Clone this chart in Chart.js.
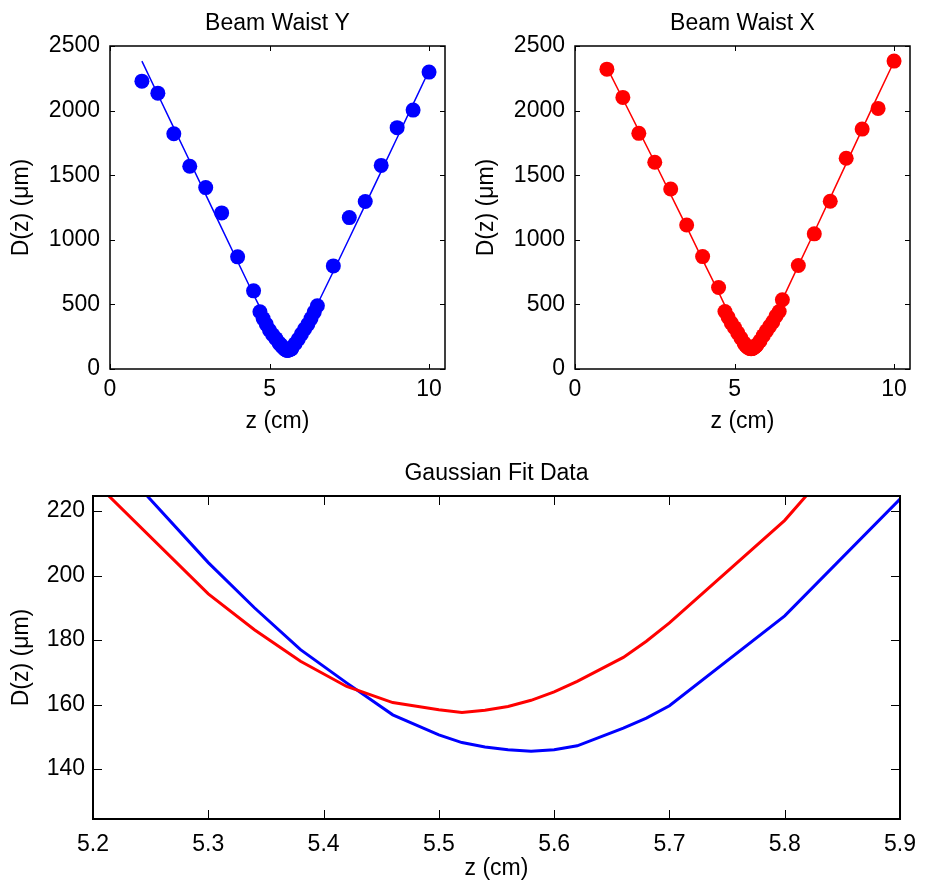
<!DOCTYPE html>
<html>
<head>
<meta charset="utf-8">
<title>Beam Waist</title>
<script src="https://cdn.jsdelivr.net/npm/chart.js@4.4.1/dist/chart.umd.min.js"></script>
<style>
  html, body { margin: 0; padding: 0; background: #fff; overflow: hidden; }
  #wrap { position: relative; width: 928px; height: 882px; overflow: hidden; }
  .box { position: absolute; }
</style>
</head>
<body>
<div id="wrap">
  <div class="box" style="left:0;top:0;width:460px;height:440px"><canvas id="chart-y"></canvas></div>
  <div class="box" style="left:465px;top:0;width:463px;height:440px"><canvas id="chart-x"></canvas></div>
  <div class="box" style="left:0;top:440px;width:928px;height:442px"><canvas id="chart-fit"></canvas></div>
</div>
<script>
// 測定位置 z (cm)
const zData = [1, 1.5, 2, 2.5, 3, 3.5, 4, 4.5,
  4.7, 4.8, 4.9, 5.0, 5.1, 5.2,
  5.3, 5.34, 5.38, 5.42, 5.46,
  5.5, 5.52, 5.54, 5.56, 5.58, 5.6, 5.62,
  5.66, 5.68, 5.7,
  5.8, 5.9, 6.0, 6.1, 6.2, 6.3, 6.4, 6.5,
  7, 7.5, 8, 8.5, 9, 9.5, 10];

// Beam Waist Y (青) 測定値とフィット
const waistY = [2228, 2135, 1821, 1569, 1404, 1208, 868, 605,
  443, 390, 345, 300, 265, 235,
  200, 190, 178, 168, 158,
  151, 148, 146, 145, 146, 147, 149,
  153, 156, 160,
  195, 230, 270, 310, 345, 390, 440, 489,
  798, 1172, 1296, 1576, 1868, 2004, 2298];
const fitY = [2383, 2125, 1866, 1608, 1350, 1090, 832, 575,
  477, 428, 380, 332, 286, 243,
  204, 190, 177, 166.7, 156.8,
  150.6, 148.2, 146.8, 146.0, 145.5, 146.0, 147.2,
  152.7, 155.8, 159.6,
  187.5, 223.7, 263, 308, 355, 403, 452, 501,
  755, 1012, 1270, 1530, 1790, 2050, 2310];

// Beam Waist X (赤) 測定値とフィット
const waistX = [2321, 2102, 1824, 1600, 1393, 1115, 870, 631,
  445, 400, 355, 320, 280, 240,
  200, 186, 175, 166, 161,
  158, 157, 158, 160, 162, 165, 168,
  176, 181, 187,
  218, 258, 295, 330, 365, 410, 445, 536,
  801, 1046, 1298, 1631, 1857, 2017, 2383];
const fitX = [2335, 2090, 1845, 1600, 1350, 1100, 845, 595,
  490, 440, 390, 340, 285, 229.5,
  194.3, 183.2, 173.4, 165.6, 160.6,
  158.4, 157.5, 158.2, 159.4, 161.3, 163.9, 167.2,
  174.6, 179.6, 185.3,
  217.1, 258, 300, 343, 388, 435, 485, 537,
  800, 1060, 1325, 1590, 1855, 2120, 2380];

// 目盛り
const topXTicks = [0, 5, 10];
const topYTicks = [0, 500, 1000, 1500, 2000, 2500];
const fitXTicks = [5.2, 5.3, 5.4, 5.5, 5.6, 5.7, 5.8, 5.9];
const fitYTicks = [140, 160, 180, 200, 220];

const FONT = '"Liberation Sans", Arial, Helvetica, sans-serif';
Chart.defaults.font.family = FONT;
Chart.defaults.font.size = 23;
Chart.defaults.color = '#000';

function toPoints(xs, ys) {
  return xs.map((x, i) => ({ x: x, y: ys[i] }));
}

// 枠・内向きの目盛り線・プロット枠中央のタイトル (MATLAB風)
const frameTicks = {
  id: 'frameTicks',
  afterDatasetsDraw(chart, args, opts) {
    const { ctx, chartArea: a } = chart;
    const x = chart.scales.x, y = chart.scales.y;
    const len = opts.len || 5;
    ctx.save();
    ctx.strokeStyle = '#000';
    ctx.lineWidth = 1;
    ctx.beginPath();
    x.ticks.forEach(t => {
      const px = Math.round(x.getPixelForValue(t.value)) + 0.5;
      ctx.moveTo(px, a.bottom); ctx.lineTo(px, a.bottom - len);
      ctx.moveTo(px, a.top); ctx.lineTo(px, a.top + len);
    });
    y.ticks.forEach(t => {
      const py = Math.round(y.getPixelForValue(t.value)) + 0.5;
      ctx.moveTo(a.left, py); ctx.lineTo(a.left + len, py);
      ctx.moveTo(a.right, py); ctx.lineTo(a.right - len, py);
    });
    ctx.stroke();
    ctx.lineWidth = opts.lineWidth || 1.5;
    ctx.strokeRect(a.left, a.top, a.right - a.left, a.bottom - a.top);

    // タイトル
    ctx.fillStyle = '#000';
    ctx.font = '23px ' + FONT;
    ctx.textAlign = 'center';
    ctx.textBaseline = 'middle';
    ctx.fillText(opts.title, (a.left + a.right) / 2, opts.titleY);
    ctx.restore();
  }
};

function axisX(min, max, ticks, fmt, height, tickPad, titlePad) {
  return {
    type: 'linear', position: 'bottom', min: min, max: max,
    afterBuildTicks: s => { s.ticks = ticks.map(v => ({ value: v })); },
    afterFit: s => { s.height = height; },
    grid: { display: false, drawTicks: false },
    border: { display: false },
    ticks: { padding: tickPad, autoSkip: false, maxRotation: 0, callback: fmt },
    title: { display: true, text: 'z (cm)', padding: { top: 0, bottom: titlePad } }
  };
}

function axisY(min, max, ticks, width, tickPad) {
  return {
    type: 'linear', position: 'left', min: min, max: max,
    afterBuildTicks: s => { s.ticks = ticks.map(v => ({ value: v })); },
    afterFit: s => { s.width = width; },
    grid: { display: false, drawTicks: false },
    border: { display: false },
    ticks: { padding: tickPad, autoSkip: false, callback: v => String(v) },
    title: { display: true, text: 'D(z) (\u03bcm)', padding: { top: 8, bottom: 0 } }
  };
}

function waistChart(id, title, data, fit, color, padRight) {
  return new Chart(document.getElementById(id), {
    type: 'scatter',
    data: {
      datasets: [
        { data: toPoints(zData, fit), showLine: true, borderColor: color, borderWidth: 1.5,
          pointRadius: 0, tension: 0, fill: false },
        { data: toPoints(zData, data), showLine: false, pointRadius: 7.5,
          backgroundColor: color, borderColor: color, borderWidth: 0 }
      ]
    },
    options: {
      responsive: true,
      maintainAspectRatio: false,
      animation: false,
      layout: { padding: { left: 0, right: padRight, top: 46, bottom: 0 } },
      plugins: {
        legend: { display: false },
        tooltip: { enabled: false },
        title: { display: false },
        frameTicks: { len: 5, lineWidth: 1.5, title: title, titleY: 23.3 }
      },
      scales: {
        x: axisX(0, 10.5, topXTicks, v => String(v), 71, 7, 5),
        y: axisY(0, 2500, topYTicks, 110, 10)
      }
    },
    plugins: [frameTicks]
  });
}

waistChart('chart-y', 'Beam Waist Y', waistY, fitY, '#0000ff', 15);
waistChart('chart-x', 'Beam Waist X', waistX, fitX, '#ff0000', 18);

// ガウシアンフィット拡大図
new Chart(document.getElementById('chart-fit'), {
  type: 'scatter',
  data: {
    datasets: [
      { data: toPoints(zData, fitX), showLine: true, borderColor: '#ff0000', borderWidth: 3,
        pointRadius: 0, tension: 0, fill: false },
      { data: toPoints(zData, fitY), showLine: true, borderColor: '#0000ff', borderWidth: 3,
        pointRadius: 0, tension: 0, fill: false }
    ]
  },
  options: {
    responsive: true,
    maintainAspectRatio: false,
    animation: false,
    layout: { padding: { left: 0, right: 18, top: 56, bottom: 0 } },
    plugins: {
      legend: { display: false },
      tooltip: { enabled: false },
      title: { display: false },
      frameTicks: { len: 9, lineWidth: 2, title: 'Gaussian Fit Data', titleY: 33.3 }
    },
    scales: {
      x: axisX(5.2, 5.9, fitXTicks, v => Number(v).toFixed(1), 63, 12, 0),
      y: axisY(124.5, 224.65, fitYTicks, 93, 8)
    }
  },
  plugins: [frameTicks]
});
</script>
</body>
</html>
